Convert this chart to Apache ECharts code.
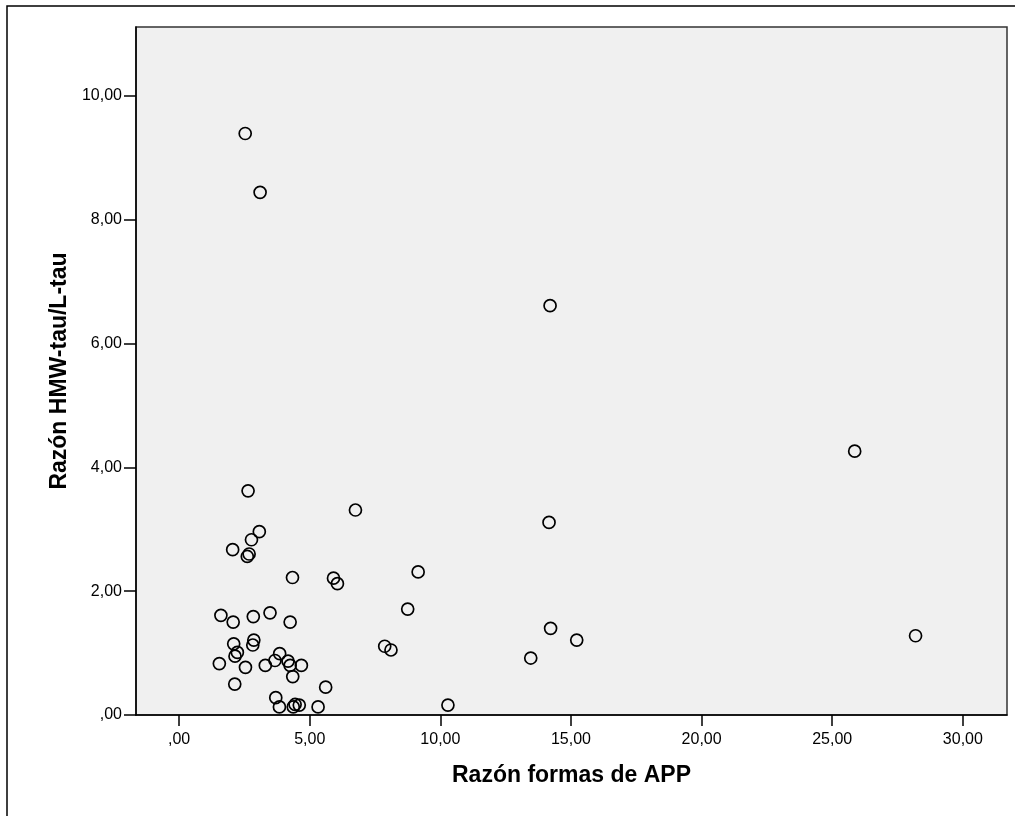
<!DOCTYPE html>
<html>
<head>
<meta charset="utf-8">
<script src="https://cdn.jsdelivr.net/npm/echarts@6/dist/echarts.min.js"></script>
<style>
html,body{margin:0;padding:0;background:#fff;}
#chart{width:1015px;height:816px;}
</style>
</head>
<body>
<div id="chart"></div>
<script>
// Data
const xValues = [2.53, 3.10, 14.20, 25.86, 2.64, 6.75, 14.16, 3.07, 2.77, 2.05,
  2.68, 2.61, 4.34, 5.91, 6.06, 9.15, 8.75, 1.60, 2.07, 2.84,
  3.48, 4.25, 14.22, 15.22, 28.19, 2.09, 2.86, 2.82, 7.87, 8.11,
  13.46, 2.23, 2.14, 3.85, 1.54, 2.54, 3.30, 3.67, 4.17, 4.25,
  4.68, 4.35, 2.13, 5.61, 3.70, 3.84, 4.44, 4.60, 4.37, 5.32, 10.29];
const yValues = [9.39, 8.44, 6.61, 4.26, 3.62, 3.31, 3.11, 2.96, 2.83, 2.67,
  2.60, 2.56, 2.22, 2.21, 2.12, 2.31, 1.71, 1.61, 1.50, 1.59,
  1.65, 1.50, 1.40, 1.21, 1.28, 1.15, 1.21, 1.13, 1.11, 1.05,
  0.92, 1.01, 0.95, 0.99, 0.83, 0.77, 0.80, 0.88, 0.87, 0.80,
  0.80, 0.62, 0.50, 0.45, 0.28, 0.13, 0.17, 0.16, 0.13, 0.13, 0.16];
const xTicks = [0, 5, 10, 15, 20, 25, 30];
const yTicks = [0, 2, 4, 6, 8, 10];
const xTitle = 'Razón formas de APP';
const yTitle = 'Razón HMW-tau/L-tau';

const points = xValues.map((x, i) => [x, yValues[i]]);
const fmt = v => {
  let s = Number(v).toFixed(2).replace('.', ',');
  if (s.startsWith('0,')) s = s.slice(1);
  return s;
};
const font = "'Liberation Sans', Arial, sans-serif";

const chart = echarts.init(document.getElementById('chart'), null, {renderer: 'canvas'});
chart.setOption({
  animation: false,
  backgroundColor: '#ffffff',
  graphic: [{
    type: 'rect',
    shape: {x: 7, y: 6, width: 1020, height: 830},
    style: {fill: 'none', stroke: '#000', lineWidth: 1.5},
    silent: true
  }],
  grid: {
    left: 136, top: 27, right: 8, bottom: 101,
    show: true, backgroundColor: '#f0f0f0',
    borderColor: '#333', borderWidth: 1.5,
    containLabel: false
  },
  xAxis: {
    type: 'value',
    min: -1.65, max: 31.69,
    name: xTitle,
    nameLocation: 'middle',
    nameGap: 49,
    nameTextStyle: {fontFamily: font, fontSize: 23, fontWeight: 'bold', color: '#000'},
    axisLine: {show: true, onZero: false, lineStyle: {color: '#000', width: 1.5}},
    axisTick: {show: true, length: 11, customValues: xTicks, lineStyle: {color: '#000', width: 1.5}},
    axisLabel: {customValues: xTicks, formatter: fmt, margin: 17, fontFamily: font, fontSize: 16, color: '#000'},
    splitLine: {show: false}
  },
  yAxis: {
    type: 'value',
    min: 0, max: 11.11,
    name: yTitle,
    nameLocation: 'middle',
    nameGap: 61,
    nameTextStyle: {fontFamily: font, fontSize: 23, fontWeight: 'bold', color: '#000'},
    axisLine: {show: true, onZero: false, lineStyle: {color: '#000', width: 1.5}},
    axisTick: {show: true, length: 12, customValues: yTicks, lineStyle: {color: '#000', width: 1.5}},
    axisLabel: {customValues: yTicks, formatter: fmt, margin: 14, fontFamily: font, fontSize: 16, color: '#000'},
    splitLine: {show: false}
  },
  series: [{
    type: 'scatter',
    data: points,
    symbol: 'circle',
    symbolSize: 12,
    itemStyle: {color: 'rgba(0,0,0,0)', borderColor: '#000', borderWidth: 1.7, opacity: 1},
    emphasis: {disabled: true}
  }]
});
</script>
</body>
</html>
